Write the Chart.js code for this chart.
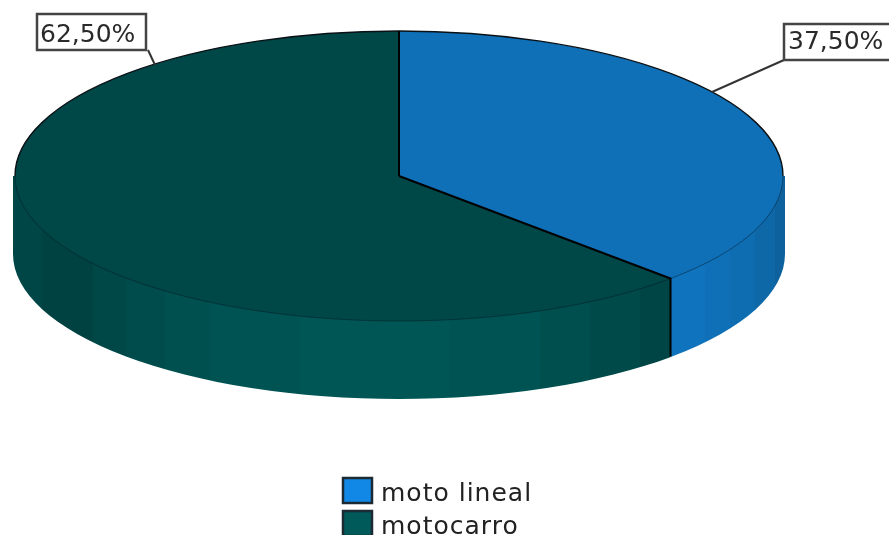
<!DOCTYPE html>
<html>
<head>
<meta charset="utf-8">
<style>
  html, body { margin: 0; padding: 0; background: #fff; overflow: hidden; }
  canvas { display: block; }
</style>
<script src="https://cdn.jsdelivr.net/npm/chart.js@4"></script>
</head>
<body>
<canvas id="pie" width="889" height="535"></canvas>
<script>
const categories = ['moto lineal', 'motocarro'];
const shares = [37.5, 62.5];
const topColors = ['#0f70b7', '#004747'];
const swatchColors = ['#1288e6', '#005a5a'];

// Stepped side-wall shading, as [x, colour] bands from left to right.
const wallBands = [
  [[671, '#0f73bd'], [705, '#0f70b8'], [730, '#0e6cb0'], [755, '#0e68a8'], [775, '#0d629e'], [786, '#0d5c94']],
  [[13, '#004646'], [42, '#004242'], [93, '#004747'], [126, '#004c4c'], [165, '#005050'], [210, '#005353'],
   [300, '#005555'], [450, '#005353'], [540, '#004f4f'], [590, '#004a4a'], [640, '#004545'], [672, '#004242']]
];

const CX = 399, CY = 176, RX = 384, RY = 145, WALL_RX = 386, DEPTH = 78;
const FONT = '"DejaVu Sans", sans-serif';

// Callout geometry: box edges plus the leader line running to the rim.
const callouts = [
  { box: [784, 24, 110, 36], textX: 788, baseline: 49, leader: [784, 60, 712, 92] },
  { box: [37, 14, 109, 36], textX: 40, baseline: 42, leader: [148, 50, 155, 65] }
];

const formatShare = v => v.toFixed(2).replace('.', ',') + '%';

function arcAngles(chart) {
  return chart.getDatasetMeta(0).data.map(el =>
    el.getProps(['startAngle', 'endAngle'], true));
}

function wallPath(ctx) {
  ctx.beginPath();
  ctx.moveTo(CX + WALL_RX, CY);
  ctx.ellipse(CX, CY + DEPTH, WALL_RX, RY, 0, 0, Math.PI);
  ctx.lineTo(CX - WALL_RX, CY);
  ctx.ellipse(CX, CY, RX - 4, RY - 4, 0, Math.PI, 0, true);
  ctx.closePath();
}

// Extruded wall below the front of the disc, then the squashed top face.
const diskPlugin = {
  id: 'disk',
  beforeDatasetsDraw(chart) {
    const ctx = chart.ctx;
    arcAngles(chart).forEach((a, i) => {
      const from = Math.max(a.startAngle, 0);
      const to = Math.min(a.endAngle, Math.PI);
      if (to <= from) return;
      const xRight = from === 0 ? CX + WALL_RX : CX + RX * Math.cos(from);
      const xLeft = to === Math.PI ? CX - WALL_RX : CX + RX * Math.cos(to);
      const bands = wallBands[i];
      const x0 = bands[0][0], x1 = bands[bands.length - 1][0];
      const grad = ctx.createLinearGradient(x0, 0, x1, 0);
      bands.forEach(([x, c], k) => {
        grad.addColorStop((x - x0) / (x1 - x0), c);
        if (k + 1 < bands.length) {
          grad.addColorStop((bands[k + 1][0] - x0) / (x1 - x0) - 0.0001, c);
        }
      });
      ctx.save();
      ctx.beginPath();
      ctx.rect(xLeft, 0, xRight - xLeft, chart.height);
      ctx.clip();
      wallPath(ctx);
      ctx.fillStyle = grad;
      ctx.fill();
      ctx.restore();
    });
    ctx.save();
    ctx.translate(CX, CY);
    ctx.scale(RX / RY, 1);
    ctx.translate(-CX, -CY);
  },
  afterDatasetsDraw(chart) {
    const ctx = chart.ctx;
    ctx.restore();
    const angles = arcAngles(chart);

    // Back rim of the top face is crisp, the front rim barely shows.
    ctx.strokeStyle = 'rgba(5,20,30,0.45)';
    ctx.lineWidth = 1;
    ctx.beginPath();
    ctx.ellipse(CX, CY, RX, RY, 0, 0, Math.PI);
    ctx.stroke();
    ctx.strokeStyle = '#0a1116';
    ctx.lineWidth = 1.4;
    ctx.beginPath();
    ctx.ellipse(CX, CY, RX, RY, 0, Math.PI, Math.PI * 2);
    ctx.stroke();

    ctx.strokeStyle = '#000';
    ctx.lineWidth = 2;
    angles.forEach(a => {
      const px = CX + RX * Math.cos(a.startAngle);
      const py = CY + RY * Math.sin(a.startAngle);
      ctx.beginPath();
      ctx.moveTo(CX, CY);
      ctx.lineTo(px, py);
      if (Math.sin(a.startAngle) > 0) ctx.lineTo(px, py + DEPTH);
      ctx.stroke();
    });

    // Callouts with the slice percentage.
    ctx.textBaseline = 'alphabetic';
    ctx.textAlign = 'left';
    callouts.forEach((c, i) => {
      ctx.strokeStyle = '#333';
      ctx.lineWidth = 2;
      ctx.beginPath();
      ctx.moveTo(c.leader[0], c.leader[1]);
      ctx.lineTo(c.leader[2], c.leader[3]);
      ctx.stroke();
      ctx.fillStyle = '#fff';
      ctx.fillRect(c.box[0], c.box[1], c.box[2], c.box[3]);
      ctx.strokeStyle = '#444';
      ctx.lineWidth = 2.5;
      ctx.strokeRect(c.box[0], c.box[1], c.box[2], c.box[3]);
      ctx.fillStyle = '#2a2a2a';
      ctx.font = '25px ' + FONT;
      ctx.fillText(formatShare(shares[i]), c.textX, c.baseline);
    });

    // Stacked legend under the disc.
    categories.forEach((name, i) => {
      const y = 478 + i * 33;
      ctx.fillStyle = swatchColors[i];
      ctx.fillRect(343, y, 29, 25);
      ctx.strokeStyle = '#1c2a33';
      ctx.lineWidth = 2.5;
      ctx.strokeRect(343, y, 29, 25);
      ctx.fillStyle = '#222';
      ctx.font = '25px ' + FONT;
      ctx.letterSpacing = '1px';
      ctx.fillText(name, 381, 501 + i * 33);
      ctx.letterSpacing = '0px';
    });
  }
};

new Chart(document.getElementById('pie'), {
  type: 'pie',
  data: {
    labels: categories,
    datasets: [{
      data: shares,
      backgroundColor: topColors,
      borderWidth: 0,
      clip: false
    }]
  },
  options: {
    responsive: false,
    animation: false,
    radius: RY,
    layout: { padding: { left: 0, right: 889 - 2 * CX, top: 0, bottom: 535 - 2 * CY } },
    plugins: { legend: { display: false }, tooltip: { enabled: false } }
  },
  plugins: [diskPlugin]
});
</script>
</body>
</html>
